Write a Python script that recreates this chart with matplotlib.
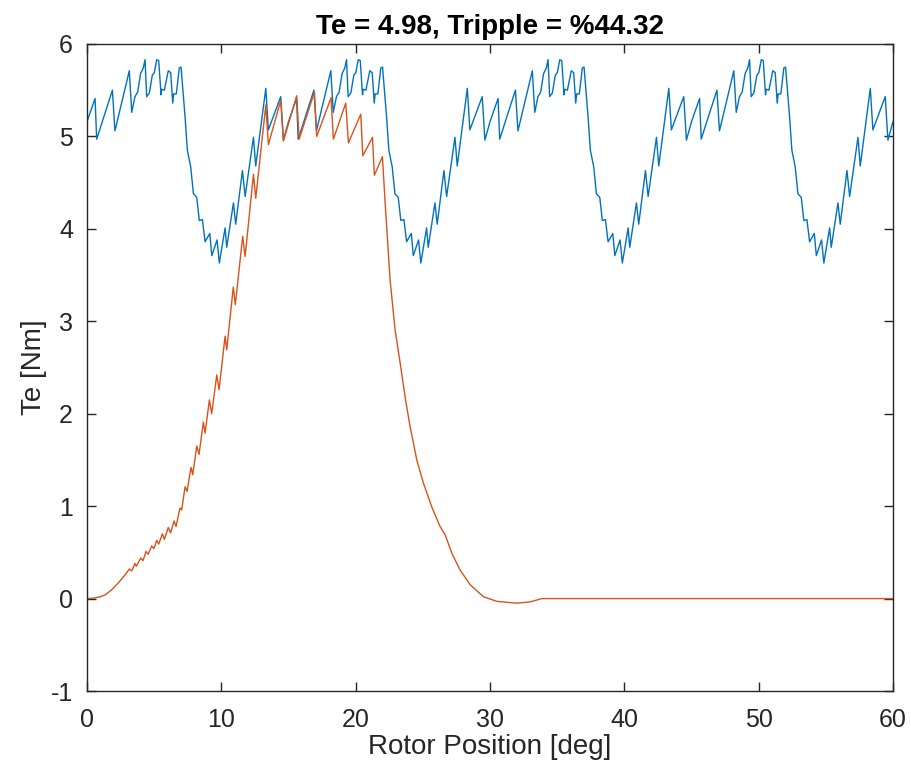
import numpy as np
import matplotlib
matplotlib.use('Agg')
import matplotlib.pyplot as plt

# 总转矩，每15度重复一次（一个周期的读数）
blue_deg = [0.00, 0.60, 0.72, 1.89, 2.08, 3.15, 3.33, 3.57, 3.77, 3.99,
            4.19, 4.32, 4.44, 4.64, 4.86, 5.01, 5.19, 5.34, 5.51, 5.56,
            5.76, 6.05, 6.23, 6.38, 6.45, 6.65, 6.87, 7.00, 7.30, 7.47,
            7.72, 7.92, 8.17, 8.36, 8.59, 8.79, 9.14, 9.29, 9.68, 9.85,
            10.28, 10.40, 10.90, 11.07, 11.57, 11.77, 12.39, 12.56, 13.31, 13.50,
            14.42, 14.62]
blue_te = [5.16, 5.41, 4.97, 5.50, 5.06, 5.71, 5.26, 5.43, 5.48, 5.68,
           5.74, 5.83, 5.43, 5.47, 5.66, 5.69, 5.83, 5.82, 5.45, 5.51,
           5.50, 5.71, 5.69, 5.36, 5.46, 5.46, 5.74, 5.75, 5.21, 4.85,
           4.67, 4.38, 4.34, 4.09, 4.10, 3.86, 3.95, 3.71, 3.88, 3.63,
           4.01, 3.80, 4.28, 4.05, 4.63, 4.35, 4.99, 4.68, 5.52, 5.07,
           5.43, 4.96]
period = 15
n_periods = 4

# 单相转矩
orange_deg = [0, 0.5, 1.0, 1.34, 1.8, 2.33, 2.8, 3.15, 3.33, 3.57,
              3.67, 4.00, 4.17, 4.39, 4.55, 4.82, 4.98, 5.19, 5.34, 5.61,
              5.76, 6.05, 6.22, 6.48, 6.63, 6.92, 7.05, 7.30, 7.45, 7.74,
              7.87, 8.17, 8.34, 8.66, 8.79, 9.11, 9.28, 9.66, 9.83, 10.28,
              10.40, 10.89, 11.04, 11.59, 11.77, 12.39, 12.56, 13.31, 13.50, 14.42,
              14.62, 15.61, 15.79, 16.93, 17.10, 18.17, 18.34, 19.26, 19.46, 20.38,
              20.53, 21.25, 21.39, 21.99, 22.19, 22.56, 22.93, 23.31, 23.68, 24.05,
              24.55, 25.04, 25.67, 26.28, 26.66, 27.16, 27.77, 28.52, 29.51, 30.51,
              32.0, 33.0, 33.86, 60]
orange_te = [0, 0.005, 0.02, 0.04, 0.09, 0.17, 0.25, 0.32, 0.30, 0.38,
             0.35, 0.44, 0.41, 0.51, 0.48, 0.57, 0.54, 0.63, 0.59, 0.70,
             0.64, 0.77, 0.71, 0.84, 0.78, 0.98, 0.96, 1.21, 1.16, 1.42,
             1.34, 1.65, 1.56, 1.91, 1.79, 2.15, 2.00, 2.42, 2.26, 2.84,
             2.69, 3.37, 3.18, 3.92, 3.70, 4.59, 4.33, 5.34, 4.91, 5.39,
             4.95, 5.44, 4.97, 5.48, 5.00, 5.42, 4.97, 5.36, 4.93, 5.24,
             4.79, 4.99, 4.58, 4.78, 4.29, 3.45, 2.91, 2.55, 2.18, 1.86,
             1.50, 1.25, 0.99, 0.78, 0.69, 0.49, 0.31, 0.15, 0.02, -0.03,
             -0.05, -0.035, 0.0, 0.0]

title = 'Te = 4.98, Tripple = %44.32'
xticks = [0, 10, 20, 30, 40, 50, 60]
yticks = [-1, 0, 1, 2, 3, 4, 5, 6]

blue_x = np.concatenate([np.array(blue_deg) + k * period for k in range(n_periods)] + [[60]])
blue_y = np.concatenate([blue_te] * n_periods + [[blue_te[0]]])

plt.rcParams['font.family'] = ['Liberation Sans', 'DejaVu Sans']
plt.rcParams['axes.unicode_minus'] = False
axcol = '#262626'

fig = plt.figure(figsize=(9.12, 7.74), dpi=100)
ax = fig.add_axes([0.0954, 0.1072, 0.8838, 0.836])
ax.plot(blue_x, blue_y, color='#0072BD', lw=1.0)
ax.plot(orange_deg, orange_te, color='#D95319', lw=1.0)

ax.set_xlim(0, 60)
ax.set_ylim(-1, 6)
ax.set_xticks(xticks)
ax.set_yticks(yticks)
ax.tick_params(direction='in', length=6.5, width=1.0, top=True, right=True,
               labelsize=18, colors=axcol)
ax.tick_params(axis='x', pad=12)
ax.tick_params(axis='y', pad=10)
for s in ax.spines.values():
    s.set_color(axcol)
    s.set_linewidth(1.0)
ax.set_xlabel('Rotor Position [deg]', fontsize=20, color=axcol, labelpad=2)
ax.set_ylabel('Te [Nm]', fontsize=20, color=axcol, labelpad=3)
ax.set_title(title, fontsize=20, fontweight='bold', color='black', pad=7)

fig.savefig('out.png', dpi=100)
